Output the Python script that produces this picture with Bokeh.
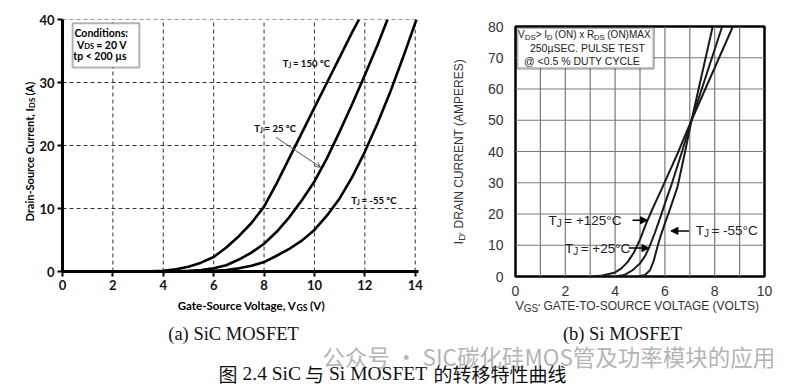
from math import pi
from bokeh.plotting import figure
from bokeh.models import (Range1d, FixedTicker, Label, Arrow, NormalHead, OpenHead,
                          BoxAnnotation)
from bokeh.layouts import column, row
from bokeh.embed import file_html
from bokeh.resources import INLINE

# ---------------- data: (a) SiC MOSFET ----------------
sic_v_150 = [2.6, 3.5, 4.0, 4.5, 5.0, 5.5, 6.0, 6.5, 7.0, 7.5, 8.0, 8.5, 9.0, 9.5, 10.0, 10.5, 11.0, 11.5, 11.77]
sic_i_150 = [0.0, 0.03, 0.12, 0.35, 0.75, 1.4, 2.3, 3.8, 5.6, 7.7, 10.3, 14.0, 18.0, 22.0, 26.0, 30.0, 34.0, 38.0, 40.0]
sic_v_25 = [3.6, 4.5, 5.0, 5.5, 6.0, 6.5, 7.0, 7.5, 8.0, 8.5, 9.0, 9.5, 10.0, 10.5, 11.0, 11.5, 12.0, 12.5, 12.9]
sic_i_25 = [0.0, 0.05, 0.12, 0.25, 0.5, 1.0, 1.9, 3.0, 4.4, 6.3, 8.6, 11.3, 14.3, 18.0, 22.2, 26.6, 31.2, 35.9, 40.0]
sic_v_m55 = [4.8, 6.0, 6.5, 7.0, 7.5, 8.0, 8.5, 9.0, 9.5, 10.0, 10.5, 11.0, 11.5, 12.0, 12.5, 13.0, 13.5, 14.05]
sic_i_m55 = [0.0, 0.1, 0.25, 0.5, 0.9, 1.5, 2.5, 3.6, 4.9, 6.6, 8.9, 11.6, 15.0, 19.0, 23.5, 28.4, 33.8, 40.0]
sic_xticks = [0, 2, 4, 6, 8, 10, 12, 14]
sic_yticks = [0, 10, 20, 30, 40]
sic_xgrid = [2, 4, 6, 8, 10, 12, 14]
sic_ygrid = [10, 20, 30, 40]

# ---------------- data: (b) Si MOSFET ----------------
si_v_125 = [3.1, 3.5, 4.0, 4.25, 4.5, 4.75, 5.0, 5.25, 5.5, 5.9, 6.5, 7.07, 8.73]
si_i_125 = [0.0, 0.3, 1.3, 2.6, 4.6, 7.6, 11.8, 17.0, 21.6, 28.5, 39.2, 50.0, 80.0]
si_v_25 = [4.0, 4.4, 4.7, 5.0, 5.2, 5.37, 5.6, 5.84, 6.05, 6.27, 6.67, 7.07, 8.3]
si_i_25 = [0.0, 0.6, 2.0, 4.2, 6.5, 9.3, 14.0, 19.5, 24.5, 29.5, 39.5, 50.0, 80.0]
si_v_m55 = [4.9, 5.2, 5.4, 5.55, 5.7, 5.85, 6.0, 6.2, 6.5, 6.8, 7.07, 7.92]
si_i_m55 = [0.0, 0.5, 2.0, 5.0, 9.5, 13.5, 17.0, 21.5, 28.5, 39.5, 50.0, 80.0]
si_xticks = [0, 2, 4, 6, 8, 10]
si_yticks = [0, 10, 20, 30, 40, 50, 60, 70, 80]
si_xgrid = [1, 2, 3, 4, 5, 6, 7, 8, 9]
si_ygrid = [10, 20, 30, 40, 50, 60, 70]

ROW_H = 298

FONT_SCALE = {"Lato": 0.87, "Liberation Sans": 1.0}


def tw(s, size, bold=False, serif=False, font=None):
    w = 0.0
    for ch in s:
        if ord(ch) > 0x2E80:
            w += 1.0
        elif ch == " ":
            w += 0.25 if serif else 0.27
        elif ch in "iIl.,:'|!":
            w += 0.28
        elif ch in "fjrt()-°J":
            w += 0.34 if serif else 0.38
        elif ch in "MW":
            w += 0.88 if serif else 0.85
        elif ch.isupper():
            w += 0.68
        elif ch.isdigit():
            w += 0.5 if serif else 0.56
        else:
            w += 0.45 if serif else 0.55
    return w * size * (1.06 if bold else 1.0) * FONT_SCALE.get(font, 1.0)


def rich(p, x, y, runs, font, color="black", bold=False, angle=0.0, align="left", sub_shift=0.3):
    """runs: (text, size, is_sub). First run is right-aligned at its end, the rest follow it,
    so that only the short following runs depend on width estimates."""
    widths = [tw(t, s, bold, font=font) for t, s, sb in runs]
    total = sum(widths)
    start = 0.0 if align == "left" else (-total / 2 if align == "center" else -total)
    pos = start + widths[0]
    for i, (t, s, sb) in enumerate(runs):
        dy = -s * sub_shift if sb else 0.0
        if i == 0:
            body = t.rstrip(" ")
            o = pos - tw(t[len(body):], s, bold, font=font)
            ta = "right"
        else:
            lead = len(t) - len(t.lstrip(" "))
            o = pos + tw(" " * lead, s, bold, font=font)
            body = t.strip(" ")
            ta = "left"
            pos += widths[i]
        if angle == 0:
            xo, yo = o, dy
        else:
            xo, yo = -dy, o
        p.add_layout(Label(x=x, y=y, x_offset=xo, y_offset=yo, text=body, angle=angle,
                           text_font=font, text_font_size=f"{s}px", text_color=color,
                           text_font_style="bold" if bold else "normal",
                           text_align=ta, text_baseline="middle"))


def blank(width, height, xr, yr):
    f = figure(width=width, height=height, x_range=xr, y_range=yr, output_backend="svg",
               toolbar_location=None, min_border=0, frame_align=False)
    f.axis.visible = False
    f.grid.visible = False
    f.outline_line_color = None
    return f


# ================= (a) SiC =================
pL = figure(width=404, height=ROW_H, x_range=Range1d(0, 14.13), y_range=Range1d(0, 40),
            output_backend="svg", toolbar_location=None, frame_align=False,
            min_border_left=24, min_border_right=22, min_border_top=19,
            min_border_bottom=ROW_H - 271)
pL.outline_line_color = None
pL.grid.visible = False
for ax in (pL.xaxis[0], pL.yaxis[0]):
    ax.axis_line_width = 3
    ax.axis_line_color = "black"
    ax.major_tick_line_width = 2
    ax.major_tick_out = 5
    ax.major_tick_in = 0
    ax.minor_tick_line_color = None
    ax.major_label_text_font = "Lato"
    ax.major_label_text_font_style = "bold"
    ax.major_label_text_font_size = "13px"
    ax.major_label_text_color = "#111"
    ax.major_label_standoff = 3
pL.xaxis.ticker = FixedTicker(ticks=sic_xticks)
pL.yaxis.ticker = FixedTicker(ticks=sic_yticks)

pL.segment(x0=sic_xgrid, y0=[0] * len(sic_xgrid), x1=sic_xgrid, y1=[40] * len(sic_xgrid),
           line_color="#333", line_dash="4 3", line_width=1)
pL.segment(x0=[0] * len(sic_ygrid), y0=sic_ygrid, x1=[14.13] * len(sic_ygrid), y1=sic_ygrid,
           line_color="#333", line_dash="4 3", line_width=1)

for xs, ys in ((sic_v_150, sic_i_150), (sic_v_25, sic_i_25), (sic_v_m55, sic_i_m55)):
    pL.line(xs, ys, line_width=2.6, line_color="black")

pL.add_layout(BoxAnnotation(left=0.4, right=3.05, top=39.4, bottom=32.4, fill_color="white",
                            fill_alpha=1, line_color="black", line_width=2))
rich(pL, 0.6, 37.9, [("Conditions:", 10.5, False)], "Lato", bold=True)
rich(pL, 0.6, 36.0, [("V", 10.5, False), ("DS", 7.5, True), (" = 20 V", 10.5, False)], "Lato", bold=True)
rich(pL, 0.6, 34.2, [("tp < 200 µs", 10.5, False)], "Lato", bold=True)

rich(pL, 8.73, 33.05, [("T", 9.5, False), ("J", 6.5, True), (" = 150 °C", 9.5, False)], "Lato", bold=True)
rich(pL, 7.6, 22.7, [("T", 9.5, False), ("J", 6.5, True), (" = 25 °C", 9.5, False)], "Lato", bold=True)
rich(pL, 11.45, 11.2, [("T", 9.5, False), ("J", 6.5, True), (" = -55 °C", 9.5, False)], "Lato", bold=True)
pL.add_layout(Arrow(end=OpenHead(size=5, line_color="#555", line_width=1),
                    x_start=8.47, y_start=21.3, x_end=10.24, y_end=16.55,
                    line_color="#555", line_width=1))

# ================= (b) Si =================
pR = figure(width=324, height=ROW_H, x_range=Range1d(0, 10), y_range=Range1d(0, 80),
            output_backend="svg", toolbar_location=None, frame_align=False,
            min_border_left=47, min_border_right=28, min_border_top=26,
            min_border_bottom=ROW_H - 278)
pR.outline_line_color = "black"
pR.outline_line_width = 2.5
pR.grid.visible = False
for ax in (pR.xaxis[0], pR.yaxis[0]):
    ax.axis_line_color = None
    ax.major_tick_line_color = None
    ax.minor_tick_line_color = None
    ax.major_label_text_font = "Liberation Sans"
    ax.major_label_text_font_size = "14px"
    ax.major_label_text_color = "#333"
pR.yaxis.major_label_standoff = 6
pR.xaxis.major_label_standoff = 3
pR.xaxis.ticker = FixedTicker(ticks=si_xticks)
pR.yaxis.ticker = FixedTicker(ticks=si_yticks)

pR.segment(x0=si_xgrid, y0=[0] * len(si_xgrid), x1=si_xgrid, y1=[80] * len(si_xgrid),
           line_color="#7a7a7a", line_width=1.2)
pR.segment(x0=[0] * len(si_ygrid), y0=si_ygrid, x1=[10] * len(si_ygrid), y1=si_ygrid,
           line_color="#7a7a7a", line_width=1.2)

for xs, ys in ((si_v_125, si_i_125), (si_v_25, si_i_25), (si_v_m55, si_i_m55)):
    pR.line(xs, ys, line_width=2, line_color="#1a1a1a")

pR.add_layout(BoxAnnotation(left=0.07, right=5.55, top=79.6, bottom=66.6, fill_color="white",
                            fill_alpha=1, line_color="black", line_width=2.5))
rich(pR, 0.1, 77.4, [("V", 10, False), ("DS", 8, True), ("> I", 10, False), ("D", 8, True),
                     (" (ON) x R", 10, False), ("DS", 8, True), (" (ON)MAX", 10, False)],
     "Liberation Sans", color="#222")
rich(pR, 2.84, 73.1, [("250µSEC. PULSE TEST", 10.5, False)], "Liberation Sans", color="#222", align="center")
rich(pR, 2.84, 69.1, [("@ <0.5 % DUTY CYCLE", 10.5, False)], "Liberation Sans", color="#222", align="center")

rich(pR, 1.29, 18.0, [("T", 13.5, False), ("J", 10, True), (" = +125°C", 13.5, False)], "Liberation Sans", color="#222")
rich(pR, 1.95, 9.1, [("T", 13.5, False), ("J", 10, True), (" = +25°C", 13.5, False)], "Liberation Sans", color="#222")
rich(pR, 7.2, 14.6, [("T", 13.5, False), ("J", 10, True), (" = -55°C", 13.5, False)], "Liberation Sans", color="#222")
for xs_, xe_, yy in ((4.7, 5.3, 18.0), (4.55, 5.36, 9.1), (6.97, 6.24, 14.6)):
    pR.add_layout(Arrow(end=NormalHead(size=7, fill_color="black", line_color="black"),
                        x_start=xs_, y_start=yy, x_end=xe_, y_end=yy,
                        line_color="black", line_width=1.5))

# ================= y-axis title strips =================
pYL = blank(36, ROW_H, Range1d(0, 36), Range1d(ROW_H, 0))
rich(pYL, 29, 148, [("Drain-Source Current, I", 11, False), ("DS", 8, True), (" (A)", 11, False)],
     "Lato", bold=True, angle=pi / 2, align="center")
pYR = blank(28, ROW_H, Range1d(440, 468), Range1d(ROW_H, 0))
rich(pYR, 458, 152, [("I", 13, False), ("D'", 9.5, True), (" DRAIN CURRENT (AMPERES)", 12, False)],
     "Liberation Sans", color="#333", angle=pi / 2, align="center")

# ================= bottom strip: x titles, captions =================
pB = blank(792, 88, Range1d(0, 792), Range1d(386, ROW_H))
rich(pB, 253, 305, [("Gate-Source Voltage, V", 11.5, False), ("GS", 8.5, True), (" (V)", 11.5, False)],
     "Lato", bold=True, align="center")
rich(pB, 639, 305, [("V", 13, False), ("GS'", 10, True), (" GATE-TO-SOURCE VOLTAGE (VOLTS)", 12, False)],
     "Liberation Sans", color="#333", align="center")

pB.add_layout(Label(x=233, y=333, text="(a) SiC MOSFET", text_font="Liberation Serif",
                    text_font_size="18.5px", text_align="center", text_baseline="middle", text_color="#111"))
pB.add_layout(Label(x=622, y=333, text="(b) Si MOSFET", text_font="Liberation Serif",
                    text_font_size="18.5px", text_align="center", text_baseline="middle", text_color="#111"))
pB.add_layout(Label(x=322, y=355, text="公众号 · SIC碳化硅MOS管及功率模块的应用", text_font="Noto Sans CJK SC",
                    text_font_size="22.5px", text_align="left", text_baseline="middle", text_color="#b4b4b4"))

title_runs = [("图", "Noto Sans CJK SC"), ("2.4 SiC", "Liberation Serif"), ("与", "Noto Sans CJK SC"),
              ("Si MOSFET", "Liberation Serif"), ("的转移特性曲线", "Noto Sans CJK SC")]
xpos = 218
for t, f in title_runs:
    serif = "Serif" in f
    size = 19.5 if serif else 19
    pB.add_layout(Label(x=xpos, y=373, text=t, text_font=f, text_font_size=f"{size}px",
                        text_align="left", text_baseline="middle", text_color="#111"))
    xpos += tw(t, size, serif=serif) * (0.93 if serif else 1.0) + 5

layout = column(row(pYL, pL, pYR, pR), pB)
open("out.html", "w").write(file_html(layout, INLINE))
